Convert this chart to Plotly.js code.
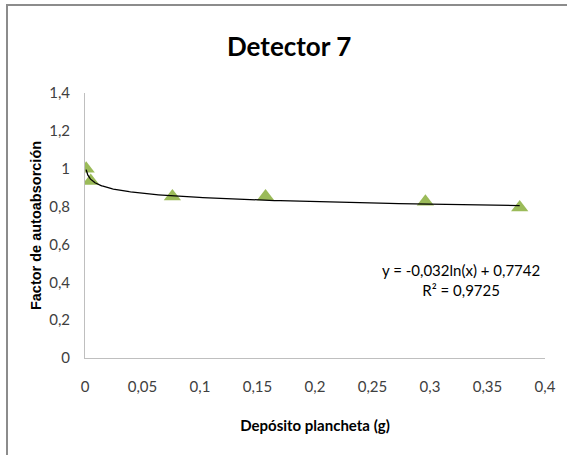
<!DOCTYPE html>
<html>
<head>
<meta charset="utf-8">
<script src="https://cdn.plot.ly/plotly-3.0.1.min.js"></script>
<style>
  html, body { margin: 0; padding: 0; background: #fff; }
  #wrap { position: relative; width: 567px; height: 455px; overflow: hidden; }
  #chart { position: absolute; left: 0; top: 0; width: 567px; height: 455px; }
  #frame { position: absolute; left: 6px; top: 4px; width: 570px; height: 460px;
           border-top: 2px solid #8c8c8c; border-left: 2px solid #8c8c8c; pointer-events: none; }
</style>
</head>
<body>
<div id="wrap">
  <div id="chart"></div>
  <div id="frame"></div>
</div>
<script>
// Data
const deposito = [0.001, 0.005, 0.076, 0.157, 0.296, 0.378];
const factor   = [1.0, 0.935, 0.853, 0.853, 0.826, 0.795];

// Logarithmic trendline shown on the chart: y = a*ln(x) + b
const trendA = -0.032;
const trendB = 0.7742;
const trendLabel = "y = -0,032ln(x) + 0,7742<br>R² = 0,9725";

const xTicks = [0, 0.05, 0.1, 0.15, 0.2, 0.25, 0.3, 0.35, 0.4];
const yTicks = [0, 0.2, 0.4, 0.6, 0.8, 1, 1.2, 1.4];

// Trendline drawn over the range of the data
const trendX = [];
const trendY = [];
const nSteps = 200;
const x0 = deposito[0], x1 = deposito[deposito.length - 1];
for (let i = 0; i <= nSteps; i++) {
  const x = Math.exp(Math.log(x0) + (Math.log(x1) - Math.log(x0)) * i / nSteps);
  trendX.push(x);
  trendY.push(trendA * Math.log(x) + trendB);
}

const fam = "Lato, 'Open Sans', sans-serif";

const traces = [
  {
    x: deposito, y: factor, type: 'scatter', mode: 'markers',
    marker: { symbol: 'triangle-up', size: 15, color: '#9bbb59' },
    hoverinfo: 'x+y', showlegend: false
  },
  {
    x: trendX, y: trendY, type: 'scatter', mode: 'lines',
    line: { color: '#000000', width: 1.3 },
    hoverinfo: 'skip', showlegend: false
  }
];

const layout = {
  width: 567, height: 455,
  margin: { l: 85, r: 22, t: 93, b: 97 },
  paper_bgcolor: '#ffffff', plot_bgcolor: '#ffffff',
  separators: ',.',
  font: { family: fam, color: '#404040', size: 15 },
  title: {
    text: '<b>Detector 7</b>',
    font: { family: fam, size: 26, color: '#000000' },
    x: 0.51, xref: 'container', xanchor: 'center', y: 0.896, yref: 'container', yanchor: 'middle'
  },
  xaxis: {
    range: [0, 0.4], tickvals: xTicks, ticktext: xTicks.map(v => String(v).replace('.', ',')),
    showgrid: false, zeroline: false, showline: true, linecolor: '#bfbfbf', linewidth: 1,
    ticks: '', ticklabelstandoff: 15,
    tickfont: { family: fam, size: 15, color: '#404040' },
    title: { text: '<b>Depósito plancheta (g)</b>', font: { family: fam, size: 15, color: '#000000' }, standoff: 26 }
  },
  yaxis: {
    range: [0, 1.4], tickvals: yTicks, ticktext: yTicks.map(v => String(v).replace('.', ',')),
    showgrid: false, zeroline: false, showline: true, linecolor: '#bfbfbf', linewidth: 1,
    ticks: '', ticklabelstandoff: 11,
    tickfont: { family: fam, size: 15, color: '#404040' },
    title: { text: '<b>Factor de autoabsorción</b>', font: { family: "'Liberation Sans', Arial, sans-serif", size: 14.5, color: '#000000' }, standoff: 4 }
  },
  annotations: [
    {
      x: 0.327, y: 0.41, xref: 'x', yref: 'y',
      text: trendLabel, showarrow: false, align: 'center',
      font: { family: fam, size: 15, color: '#000000' }
    }
  ]
};

Plotly.newPlot('chart', traces, layout, { displayModeBar: false, staticPlot: true });
</script>
</body>
</html>
